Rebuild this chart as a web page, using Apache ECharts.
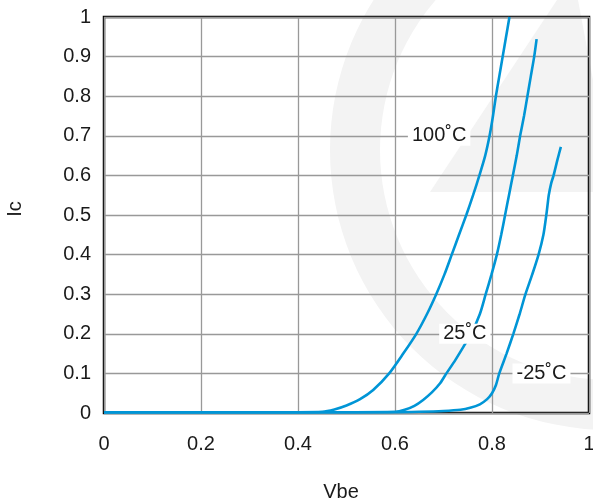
<!DOCTYPE html>
<html>
<head>
<meta charset="utf-8">
<script src="https://cdn.jsdelivr.net/npm/echarts@6/dist/echarts.min.js"></script>
<style>
html,body{margin:0;padding:0;background:#fff;}
#chart{width:593px;height:504px;}
</style>
</head>
<body>
<div id="chart"></div>
<script>
// Ic vs Vbe curves
var curve100 = [[0,0.002],[0.1,0.002],[0.2,0.002],[0.3,0.002],[0.4,0.002],[0.45,0.003],[0.475,0.009],[0.5,0.019],[0.528,0.035],[0.555,0.058],[0.588,0.1],[0.617,0.15],[0.644,0.2],[0.666,0.25],[0.685,0.3],[0.702,0.35],[0.717,0.4],[0.732,0.45],[0.747,0.5],[0.761,0.55],[0.774,0.6],[0.786,0.65],[0.795,0.7],[0.802,0.75],[0.808,0.8],[0.815,0.85],[0.822,0.9],[0.829,0.95],[0.836,1.0]];
var curve25 = [[0,0.002],[0.3,0.002],[0.5,0.002],[0.6,0.003],[0.62,0.008],[0.64,0.018],[0.658,0.033],[0.676,0.052],[0.693,0.075],[0.706,0.1],[0.724,0.133],[0.741,0.167],[0.757,0.2],[0.775,0.25],[0.787,0.3],[0.799,0.35],[0.81,0.4],[0.819,0.45],[0.827,0.5],[0.835,0.55],[0.843,0.6],[0.851,0.65],[0.858,0.7],[0.866,0.75],[0.873,0.8],[0.88,0.85],[0.887,0.9],[0.892,0.944]];
var curveM25 = [[0,0.002],[0.3,0.002],[0.6,0.002],[0.65,0.003],[0.7,0.005],[0.735,0.008],[0.755,0.013],[0.775,0.022],[0.79,0.035],[0.8,0.05],[0.808,0.07],[0.815,0.1],[0.83,0.15],[0.844,0.2],[0.857,0.25],[0.869,0.3],[0.883,0.35],[0.896,0.4],[0.906,0.45],[0.912,0.5],[0.915,0.53],[0.917,0.55],[0.922,0.58],[0.927,0.6],[0.935,0.64],[0.942,0.672]];
var curveLabels = [[0.691,0.7,'100˚C'],[0.744,0.2,'25˚C'],[0.902,0.1,'-25˚C']];
var xTickLabels = ['0','0.2','0.4','0.6','0.8','1'];
var yTickLabels = ['0','0.1','0.2','0.3','0.4','0.5','0.6','0.7','0.8','0.9','1'];

var FONT = '"Liberation Sans", Arial, sans-serif';
var BLUE = '#0095d6';
var TXT = '#1a1a1a';
var chart = echarts.init(document.getElementById('chart'), null, {renderer:'canvas'});

function lineSeries(name, data){
  return {
    name: name, type: 'line', data: data, showSymbol: false, symbol: 'none',
    smooth: 0.25, z: 3, silent: true,
    lineStyle: {color: BLUE, width: 2.6}
  };
}

chart.setOption({
  animation: false,
  backgroundColor: '#fff',
  textStyle: {fontFamily: FONT},
  graphic: [
    {type:'ring', z:-10, silent:true, shape:{cx:610, cy:150, r:280, r0:230}, style:{fill:'#f3f3f3'}},
    {type:'polygon', z:-10, silent:true, shape:{points:[[430,192],[557,0],[578,0],[593,80],[593,192]]}, style:{fill:'#f3f3f3'}}
  ],
  grid: {left:104, right:4, top:17, bottom:91, show:true, borderColor:'#000', borderWidth:2.5,
         backgroundColor:'transparent', containLabel:false, outerBoundsMode:'none'},
  xAxis: {
    type:'value', min:0, max:1, interval:0.2,
    name:'Vbe', nameLocation:'middle', nameGap:69,
    nameTextStyle:{fontSize:20, color:TXT, fontFamily:FONT, padding:[0,11,0,0]},
    axisLine:{show:false}, axisTick:{show:false},
    axisLabel:{fontSize:20, color:TXT, fontFamily:FONT, margin:21,
      formatter:function(v){ var i=Math.round(v/0.2); return xTickLabels[i]!==undefined?xTickLabels[i]:''; }},
    splitLine:{show:true, lineStyle:{color:'#999', width:1.3}}
  },
  yAxis: {
    type:'value', min:0, max:1, interval:0.1,
    name:'Ic', nameLocation:'middle', nameGap:79,
    nameTextStyle:{fontSize:20, color:TXT, fontFamily:FONT, padding:[0,0,0,12]},
    axisLine:{show:false}, axisTick:{show:false},
    axisLabel:{fontSize:20, color:TXT, fontFamily:FONT, margin:13,
      formatter:function(v){ var i=Math.round(v/0.1); return yTickLabels[i]!==undefined?yTickLabels[i]:''; }},
    splitLine:{show:true, lineStyle:{color:'#999', width:1.3}}
  },
  series: [
    lineSeries('100˚C', curve100),
    lineSeries('25˚C', curve25),
    lineSeries('-25˚C', curveM25),
    {
      type:'scatter', z:6, silent:true, symbolSize:0.1,
      itemStyle:{color:'#fff'},
      data: curveLabels.map(function(d){ return {value:[d[0], d[1]], name:d[2]}; }),
      label:{show:true, position:'inside', formatter:function(p){return p.name;}, opacity:1,
        fontSize:20, color:TXT, fontFamily:FONT, backgroundColor:'#fff', padding:[0,4],
        textBorderWidth:0}
    }
  ]
});
</script>
</body>
</html>
